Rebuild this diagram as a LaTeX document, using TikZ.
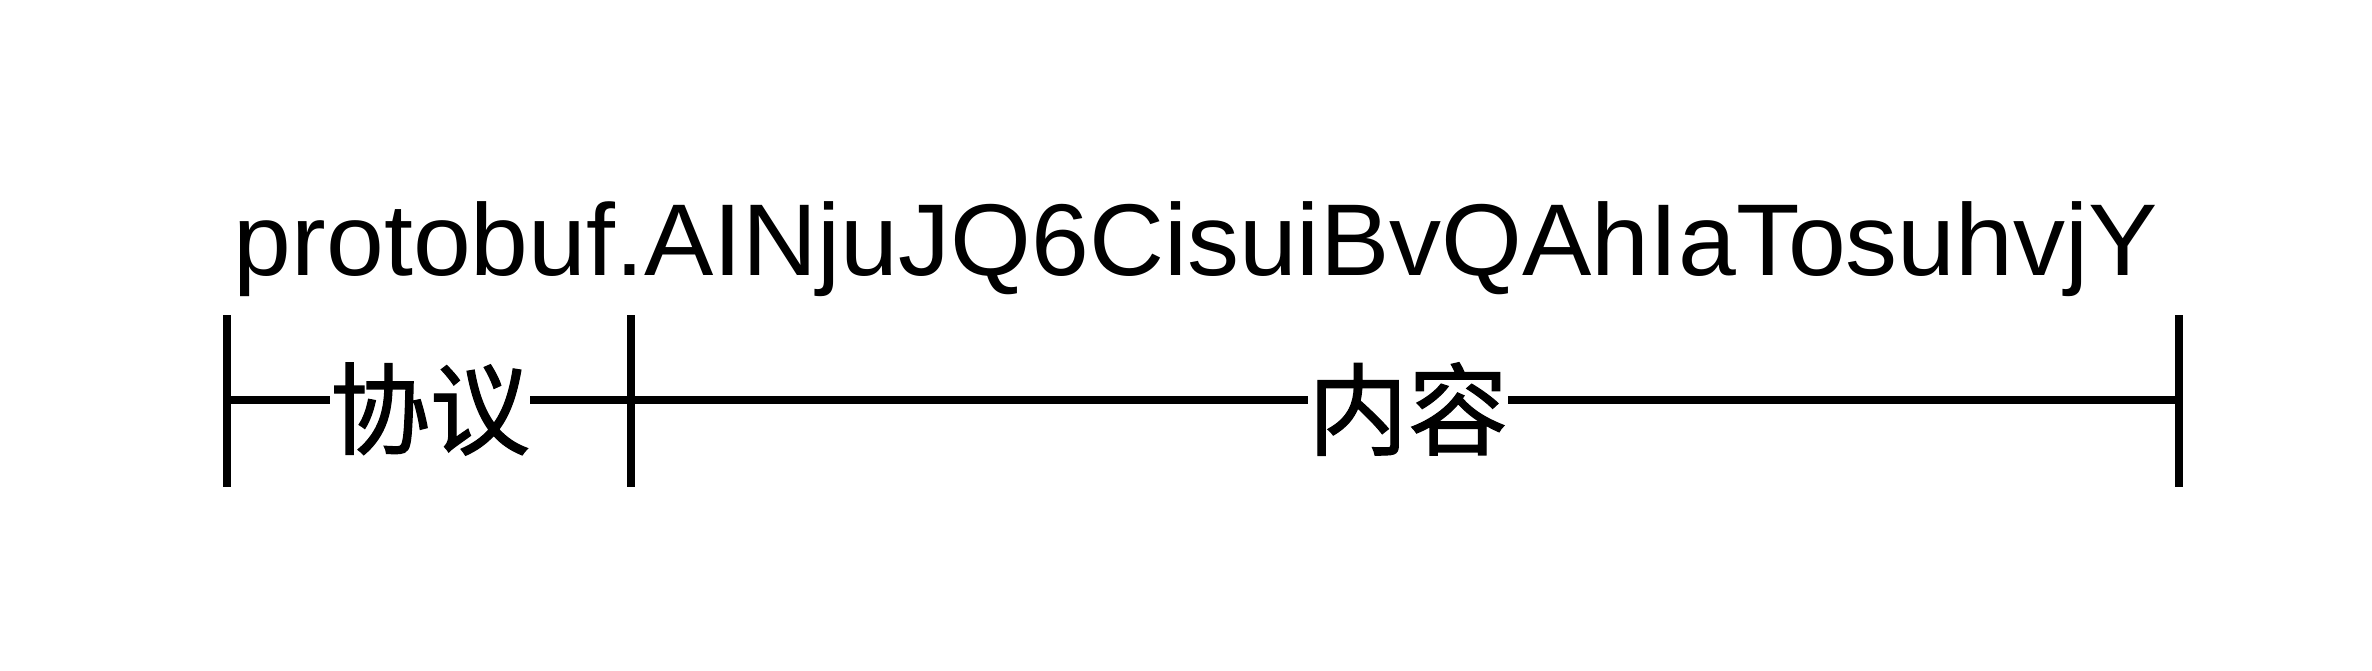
\documentclass[tikz,border=0pt]{standalone}
\usepackage{fontspec}
\usepackage{graphicx}
\setmainfont{Liberation Sans}
\newfontfamily\cjk[FakeBold=1.2]{Noto Sans CJK SC}
\begin{document}
\begin{tikzpicture}[x=1pt,y=-1pt,
  bar/.style={line width=8pt,black},
  seg/.style={line width=8pt,black},
  lbl/.style={inner sep=0pt,font=\cjk\fontsize{100}{100}\selectfont}]
\useasboundingbox (0,0) rectangle (2372,670);
\node[anchor=base,inner sep=0pt,font=\fontsize{102}{102}\selectfont] (title) at (1196,275)
  {\resizebox{1924pt}{\height}{protobuf.AINjuJQ6CisuiBvQAhIaTosuhvjY}};
\coordinate (l1t) at (227,315); \coordinate (l1b) at (227,487); \coordinate (l1m) at (227,400);
\coordinate (l2t) at (631,315); \coordinate (l2b) at (631,487); \coordinate (l2m) at (631,400);
\coordinate (l3t) at (2179,315); \coordinate (l3b) at (2179,487); \coordinate (l3m) at (2179,400);
\draw[bar] (l1t) -- (l1b);
\draw[bar] (l2t) -- (l2b);
\draw[bar] (l3t) -- (l3b);
\node[lbl] (proto) at (430,409) {协议};
\node[lbl] (content) at (1408,409) {内容};
\draw[seg] (l1m) -- (proto.west |- l1m);
\draw[seg] (proto.east |- l1m) -- (l2m);
\draw[seg] (l2m) -- (content.west |- l2m);
\draw[seg] (content.east |- l2m) -- (l3m);
\end{tikzpicture}
\end{document}
